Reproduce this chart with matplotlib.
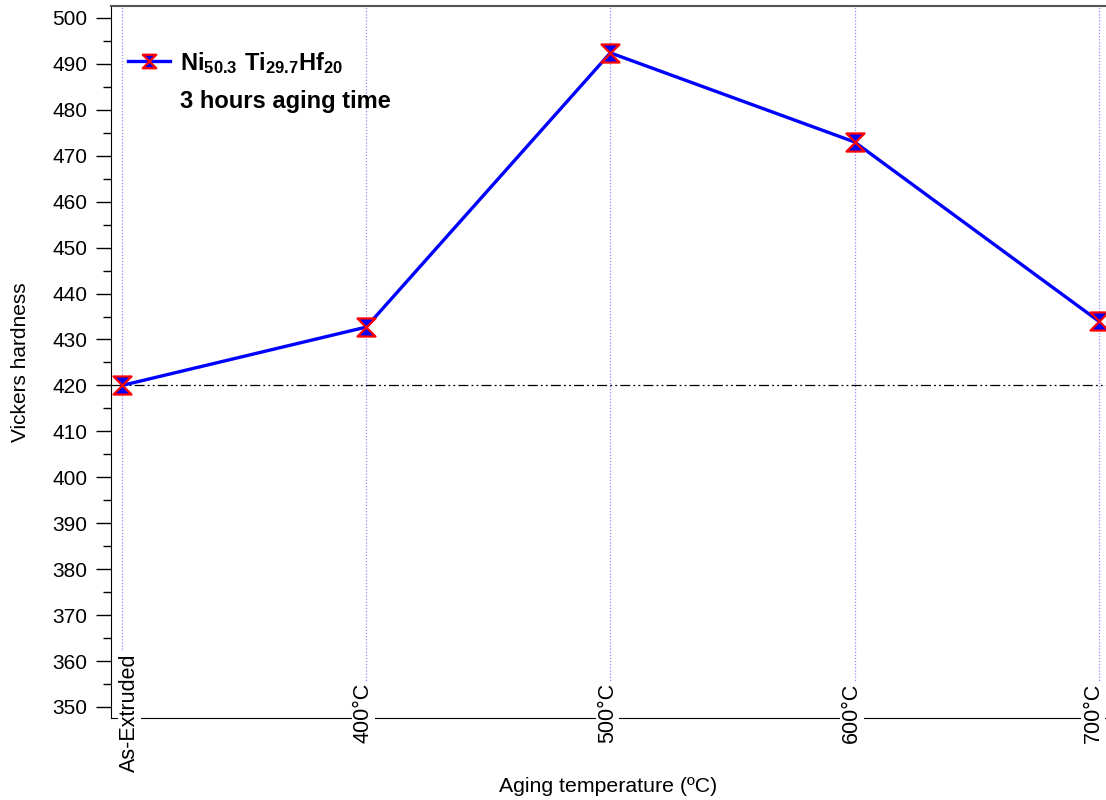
import matplotlib
matplotlib.use('Agg')
import matplotlib.pyplot as plt
from matplotlib.path import Path
from matplotlib.lines import Line2D
from matplotlib.ticker import MultipleLocator

plt.rcParams['font.family'] = ['Liberation Sans', 'DejaVu Sans']
plt.rcParams['mathtext.fontset'] = 'custom'
plt.rcParams['mathtext.rm'] = 'Liberation Sans'
plt.rcParams['mathtext.bf'] = 'Liberation Sans:bold'

# aging conditions and measured hardness
conditions = ['As-Extruded', '400°C', '500°C', '600°C', '700°C']
hardness = [420.0, 432.7, 492.4, 473.0, 434.0]
baseline = 420.0

# hourglass marker: two triangles meeting at the centre
hourglass = Path([(-1, 1), (1, 1), (0, 0), (-1, 1),
                  (-1, -1), (1, -1), (0, 0), (-1, -1)],
                 [Path.MOVETO, Path.LINETO, Path.LINETO, Path.CLOSEPOLY,
                  Path.MOVETO, Path.LINETO, Path.LINETO, Path.CLOSEPOLY])

fig = plt.figure(figsize=(11.06, 8), dpi=100)
ax = fig.add_axes([0.1004, 0.1025, 0.8996, 0.89])

x = list(range(len(conditions)))
for xi in x:
    ax.axvline(xi, color='#8c8cff', lw=0.9, ls=(0, (1, 1.5)), zorder=1)
ax.axhline(baseline, color='black', lw=0.9, ls=(0, (8, 2.5, 1.5, 2.5, 1.5, 2.5)), zorder=1)

line, = ax.plot(x, hardness, color='#0000ff', lw=2.4, marker=hourglass,
                markersize=13, markerfacecolor='#0000ff', markeredgecolor='#ff0000',
                markeredgewidth=1.6, zorder=4, clip_on=False)

ax.set_xlim(-0.045, 4.03)
ax.set_ylim(347.6, 502.6)
ax.yaxis.set_major_locator(MultipleLocator(10))
ax.yaxis.set_minor_locator(MultipleLocator(5))
ax.tick_params(axis='y', which='major', length=11, width=1, labelsize=15, pad=6)
ax.tick_params(axis='y', which='minor', length=6, width=1)
ax.set_xticks([])

ax.spines['right'].set_visible(False)
ax.spines['top'].set_color('#555555')
ax.spines['top'].set_linewidth(1.5)

# category labels sit on the bottom axis line
offsets = [5.5, -2, -2, -2, -4]
for xi, name, dx in zip(x, conditions, offsets):
    ax.annotate(name, xy=(xi, 0), xycoords=('data', 'axes fraction'),
                xytext=(dx, 4), textcoords='offset points', rotation=90,
                ha='center', va='center', fontsize=15.5, zorder=6,
                bbox=dict(facecolor='white', edgecolor='none', pad=1.0),
                annotation_clip=False)

ax.set_ylabel('Vickers hardness', fontsize=15)
ax.yaxis.set_label_coords(-0.0814, 0.5)
ax.set_xlabel('Aging temperature (ºC)', fontsize=15.3)
ax.xaxis.set_label_coords(0.5, -0.083)

blank = Line2D([], [], color='none')
ax.legend([line, blank],
          [r'$\mathbf{Ni_{50.3}\ Ti_{29.7}Hf_{20}}$', '3 hours aging time'],
          loc='upper left', bbox_to_anchor=(0.008, 0.952), frameon=False,
          prop={'weight': 'bold', 'size': 17}, handlelength=1.75,
          handletextpad=0.45, labelspacing=0.62, markerscale=0.75,
          borderaxespad=0.0)

fig.savefig('out.png', dpi=100)
